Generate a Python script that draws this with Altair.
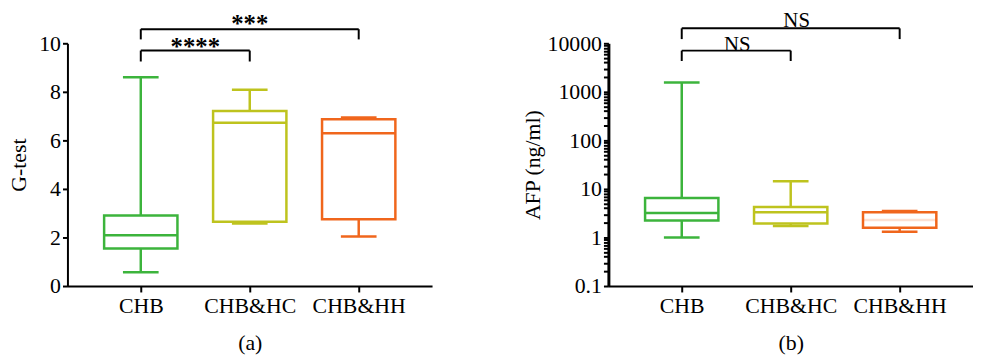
import altair as alt
import pandas as pd

categories = ["CHB", "CHB&HC", "CHB&HH"]
colors = ["#3cb43c", "#bec31e", "#f0661c"]

# Panel (a): G-test box plot statistics
gtest_min = [0.57, 2.58, 2.04]
gtest_q1 = [1.55, 2.65, 2.75]
gtest_med = [2.09, 6.73, 6.29]
gtest_q3 = [2.91, 7.21, 6.87]
gtest_max = [8.6, 8.09, 6.94]

# Panel (b): AFP (ng/ml) box plot statistics
afp_min = [1.0, 1.73, 1.31]
afp_q1 = [2.23, 1.94, 1.58]
afp_med = [3.2, 3.3, 2.3]
afp_q3 = [6.5, 4.26, 3.3]
afp_max = [1550, 14.4, 3.5]

# significance brackets
gtest_sig_from = ["CHB", "CHB"]
gtest_sig_to = ["CHB&HC", "CHB&HH"]
gtest_sig_bar = [9.7, 10.58]
gtest_sig_end = [9.25, 10.16]
gtest_sig_text = ["****", "***"]
gtest_sig_text_y = [9.84, 10.8]

afp_sig_from = ["CHB", "CHB"]
afp_sig_to = ["CHB&HC", "CHB&HH"]
afp_sig_bar = [7060, 20300]
afp_sig_end = [4320, 12200]
afp_sig_text = ["NS", "NS"]
afp_sig_text_y = [9080, 28200]

gtest_ticks = [0, 2, 4, 6, 8, 10]
afp_ticks = [0.1, 1, 10, 100, 1000, 10000]
afp_minor = [0.2, 0.3, 0.4, 0.5, 0.6, 0.7, 0.8, 0.9,
             2, 3, 4, 5, 6, 7, 8, 9,
             20, 30, 40, 50, 60, 70, 80, 90,
             200, 300, 400, 500, 600, 700, 800, 900,
             2000, 3000, 4000, 5000, 6000, 7000, 8000, 9000]

FONT = "Liberation Serif"
W, H = 368, 245
BOX_W, CAP_W, SW = 74, 36, 2.5

AX = dict(labelFont=FONT, labelFontSize=22, titleFont=FONT, titleFontSize=22,
          titleFontWeight="normal", labelColor="black", titleColor="black",
          domainColor="black", tickColor="black", grid=False)


def box_df(mn, q1, md, q3, mx):
    return pd.DataFrame({"cat": categories, "lo": mn, "q1": q1, "med": md, "q3": q3, "hi": mx})


def br_df(fr, to, bar, end, txt, ty):
    rows = []
    for i in range(len(fr)):
        rows.append({"a": fr[i], "b": to[i], "bar": bar[i], "end": end[i], "txt": txt[i], "ty": ty[i]})
    return pd.DataFrame(rows)


def panel(df, bdf, yscale, yaxis, xtitle, text_style, text_dx, faint_median=None):
    xenc = alt.X("cat:N", sort=categories,
                 scale=alt.Scale(type="point", padding=0.673, domain=categories),
                 axis=alt.Axis(title=xtitle, labelAngle=0, tickSize=6, labelPadding=4,
                               titlePadding=16, domainWidth=2, tickWidth=2, **AX))
    cscale = alt.Scale(domain=categories, range=colors)
    color = alt.Color("cat:N", scale=cscale, legend=None)
    base = alt.Chart(df).encode(x=xenc, color=color)
    whisk = base.mark_rule(strokeWidth=SW, opacity=1).encode(
        y=alt.Y("lo:Q", scale=yscale, axis=yaxis), y2="hi:Q")
    box = base.mark_bar(size=BOX_W, fill="white", strokeWidth=SW, opacity=1, fillOpacity=1).encode(
        y="q1:Q", y2="q3:Q", stroke=alt.Stroke("cat:N", scale=cscale, legend=None))
    if faint_median is not None:
        med = base.mark_tick(size=BOX_W, thickness=SW).encode(
            y="med:Q",
            opacity=alt.condition(alt.datum.cat == faint_median, alt.value(0.2), alt.value(1.0)))
    else:
        med = base.mark_tick(size=BOX_W, thickness=SW, opacity=1).encode(y="med:Q")
    cap_lo = base.mark_tick(size=CAP_W, thickness=SW, opacity=1).encode(y="lo:Q")
    cap_hi = base.mark_tick(size=CAP_W, thickness=SW, opacity=1).encode(y="hi:Q")

    bb = alt.Chart(bdf)
    hbar = bb.mark_rule(color="black", strokeWidth=2).encode(
        x=alt.X("a:N", sort=categories), x2="b:N", y="bar:Q")
    vl = bb.mark_rule(color="black", strokeWidth=2).encode(
        x=alt.X("a:N", sort=categories), y="end:Q", y2="bar:Q")
    vr = bb.mark_rule(color="black", strokeWidth=2).encode(
        x=alt.X("b:N", sort=categories), y="end:Q", y2="bar:Q")
    texts = []
    for i in range(len(bdf)):
        texts.append(
            alt.Chart(bdf.iloc[[i]]).mark_text(dx=text_dx[i], baseline="middle", **text_style).encode(
                x=alt.X("a:N", sort=categories), y="ty:Q", text="txt:N"))

    return alt.layer(whisk, box, med, cap_lo, cap_hi, hbar, vl, vr, *texts).properties(width=W, height=H)


left = panel(
    box_df(gtest_min, gtest_q1, gtest_med, gtest_q3, gtest_max),
    br_df(gtest_sig_from, gtest_sig_to, gtest_sig_bar, gtest_sig_end, gtest_sig_text, gtest_sig_text_y),
    alt.Scale(domain=[0, 10], nice=False, zero=True),
    alt.Axis(title="G-test", values=gtest_ticks, tickSize=5, labelPadding=2, titlePadding=8,
             domainWidth=2, tickWidth=2, **AX),
    "(a)",
    dict(font=FONT, fontSize=25, fontWeight="bold", color="black"),
    [55, 110],
)

major_js = "[" + ",".join(str(v) for v in afp_ticks) + "]"
right = panel(
    box_df(afp_min, afp_q1, afp_med, afp_q3, afp_max),
    br_df(afp_sig_from, afp_sig_to, afp_sig_bar, afp_sig_end, afp_sig_text, afp_sig_text_y),
    alt.Scale(type="log", domain=[0.1, 10000], nice=False),
    alt.Axis(title="AFP (ng/ml)", values=afp_ticks + afp_minor,
             labelExpr="indexof(" + major_js + ", datum.value) >= 0 ? format(datum.value, '~g') : ''",
             labelOverlap=False, tickSize=5,
             labelPadding=2, titlePadding=3, domainWidth=3, tickWidth=2, **AX),
    "(b)",
    dict(font=FONT, fontSize=21, color="black"),
    [56, 116],
    faint_median="CHB&HH",
)

chart = alt.hconcat(left, right, spacing=90).properties(
    padding={"left": 0, "top": 0, "right": 0, "bottom": 0}
).configure_view(stroke=None)

chart.save("out.html", embed_options={"renderer": "svg", "actions": False})
